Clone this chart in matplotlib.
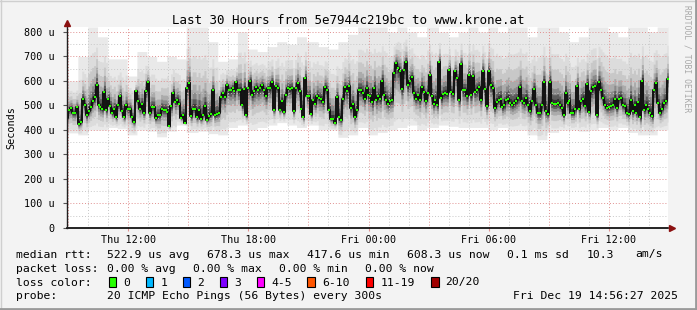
import numpy as np
import pandas as pd
import matplotlib
matplotlib.use("Agg")
import matplotlib.pyplot as plt
from matplotlib.patches import Rectangle
from matplotlib.lines import Line2D

W, H = 697, 310
MONO = "DejaVu Sans Mono"

# ---------- data ----------
# median rtt (microseconds), ~6 min steps over the 30 hours
median_us = [
    449, 483, 490, 470, 470, 493, 424, 433, 528, 500, 460, 476, 494, 520, 533, 585, 503, 493, 487, 555,
    483, 528, 497, 470, 487, 452, 503, 537, 479, 452, 500, 487, 487, 452, 433, 558, 520, 487, 506, 470,
    558, 594, 470, 494, 493, 447, 460, 460, 487, 483,
    483, 473, 418, 497, 551, 514, 524, 506, 449, 460, 429, 571, 592, 456, 487, 487, 452, 483, 446, 463,
    497, 442, 456, 465, 561, 460, 465, 470, 533, 551, 533, 582, 564, 561, 571, 558, 594, 561, 564, 500,
    568, 460, 571, 601, 544, 558, 574, 561, 571,
    582, 564, 537, 571, 571, 596, 483, 578, 571, 483, 520, 473, 544, 571, 568, 571, 476, 571, 592, 558,
    487, 452, 610, 537, 537, 465, 524, 506, 537, 530, 528, 514, 574, 561, 483, 446, 446, 429, 533, 452,
    442, 528, 574, 558, 578, 490, 506, 452, 483, 561,
    561, 551, 528, 571, 541, 537, 514, 571, 524, 537, 528, 601, 544, 524, 506, 520, 524, 633, 673, 653,
    639, 568, 646, 678, 582, 601, 615, 551, 528, 544, 524, 574, 555, 520, 551, 626, 537, 506, 524, 503,
    676, 530, 547, 551, 547, 646, 555, 547, 639, 610, 524, 669, 561,
    561, 537, 626, 541, 619, 555, 561, 574, 524, 642, 568, 497, 639, 585, 571, 490, 514, 524, 528, 493,
    500, 524, 528, 510, 503, 510, 517, 530, 574, 517, 510, 530, 503, 479, 520, 568, 500, 470, 470, 500,
    596, 479, 465, 596, 510, 506, 506, 510, 503, 490, 460, 551, 510,
    520, 470, 470, 487, 578, 487, 520, 528, 497, 588, 473, 558, 574, 578, 460, 596, 564, 530, 503, 490,
    493, 497, 500, 528, 490, 528, 530, 500, 497, 470, 465, 524, 476, 500, 470, 514, 452, 601, 483, 500,
    487, 470, 456, 561, 592, 510, 470, 487, 510, 520, 608,
]

# smoke extent (fastest / slowest ping) per 30 min block
smoke_lo_us = [
    388, 380, 400, 400, 410, 405, 380, 400, 395, 372,
    395, 420, 390, 395, 385, 380, 410, 420, 400, 410,
    420, 430, 420, 410, 420, 400, 400, 370, 380, 410,
    380, 390, 400, 410, 420, 400, 410, 420, 415, 410,
    410, 410, 400, 410, 400, 400, 380, 360, 390, 400,
    400, 395, 400, 410, 400, 410, 390, 380, 380, 400,
]
smoke_hi_us = [
    600, 700, 820, 780, 690, 690, 620, 720, 700, 680,
    700, 690, 820, 820, 760, 680, 690, 800, 730, 720,
    740, 760, 750, 780, 760, 740, 730, 760, 790, 820,
    820, 820, 800, 820, 800, 780, 820, 800, 780, 800,
    820, 800, 820, 800, 820, 820, 780, 820, 820, 800,
    760, 780, 820, 820, 800, 780, 820, 820, 800, 820,
]

y_ticks = [0, 100, 200, 300, 400, 500, 600, 700, 800]
y_labels = ["0", "100 u", "200 u", "300 u", "400 u", "500 u", "600 u", "700 u", "800 u"]
x_tick_times = ["2025-12-18 12:00", "2025-12-18 18:00", "2025-12-19 00:00",
                "2025-12-19 06:00", "2025-12-19 12:00"]
x_labels = ["Thu 12:00", "Thu 18:00", "Fri 00:00", "Fri 06:00", "Fri 12:00"]

loss_labels = ["0", "1", "2", "3", "4-5", "6-10", "11-19", "20/20"]
loss_colors = ["#26ff00", "#00b8ff", "#0059ff", "#7e00ff",
               "#ff00ff", "#ff5500", "#ff0000", "#a10000"]

t_start = pd.Timestamp("2025-12-18 08:57")
t_end = pd.Timestamp("2025-12-19 14:57")


def fx(x):
    return x / W


def fy(y):
    return 1 - y / H


def main():
    plt.rcParams["font.family"] = [MONO, "DejaVu Sans"]
    fig = plt.figure(figsize=(W / 100, H / 100), dpi=100, facecolor="#f3f3f3")

    # 3d-ish frame
    fig.add_artist(Line2D([0, 1], [fy(0.5), fy(0.5)], color="#cfcfcf", lw=1))
    fig.add_artist(Line2D([fx(0.5), fx(0.5)], [0, 1], color="#cfcfcf", lw=1))
    fig.add_artist(Line2D([0, 1], [fy(309), fy(309)], color="#9a9a9a", lw=2))
    fig.add_artist(Line2D([fx(696), fx(696)], [0, 1], color="#9a9a9a", lw=2))

    ax = fig.add_axes([fx(67), fy(228), (668 - 67) / W, (228 - 27) / H])
    ax.set_facecolor("white")

    med = np.array(median_us, dtype=float)
    t = pd.date_range(t_start, t_end, periods=len(med))
    lo = np.array(smoke_lo_us, dtype=float)
    hi = np.array(smoke_hi_us, dtype=float)
    blk = np.minimum(((t - t_start) / pd.Timedelta("30min")).astype(int), len(hi) - 1)
    hi_s, lo_s = hi[blk], lo[blk]

    # smoke: outer pings light, inner pings dark
    layers = [(1.0, "#e9e9e9"), (0.65, "#dcdcdc"), (0.45, "#c8c8c8"), (0.3, "#ababab"),
              (0.2, "#8a8a8a"), (0.12, "#5c5c5c"), (0.06, "#343434")]
    for f, c in layers:
        up = med + f * (hi_s - med)
        dn = med - min(1.0, f * 1.3) * (med - lo_s)
        ax.fill_between(t, dn, up, step="mid", color=c, lw=0, zorder=1)

    # grid
    for v in range(50, 820, 50):
        major = v % 100 == 0
        ax.axhline(v, color="#e09090" if major else "#c8c8c8", lw=0.7,
                   ls=(0, (1, 2)), zorder=3)
    for tt in pd.date_range("2025-12-18 09:00", "2025-12-19 14:00", freq="1h"):
        major = tt.hour % 3 == 0
        ax.axvline(tt, color="#e09090" if major else "#c8c8c8", lw=0.7,
                   ls=(0, (1, 2)), zorder=3)

    # median
    ax.step(t, med, where="mid", color="#111111", lw=1.4, zorder=4)
    ax.plot(t, med, ls="none", marker="s", ms=2.0, mew=0, color=loss_colors[0], zorder=5)

    ax.set_xlim(t_start, t_end)
    ax.set_ylim(0, 820)
    for s in ax.spines.values():
        s.set_visible(False)
    ax.axhline(0, color="black", lw=1.2, zorder=6, clip_on=False)
    ax.axvline(t_start, color="#202020", lw=1, zorder=6, clip_on=False)
    ax.plot([1.006], [0], marker=">", ms=4, color="#8b1010", transform=ax.transAxes,
            clip_on=False, zorder=7)
    ax.plot([0], [1.02], marker="^", ms=4, color="#8b1010", transform=ax.transAxes,
            clip_on=False, zorder=7)

    ax.set_yticks(y_ticks)
    ax.set_yticklabels(y_labels)
    ax.set_xticks(pd.to_datetime(x_tick_times))
    ax.set_xticklabels(x_labels)
    ax.tick_params(axis="y", length=3, width=0.8, color="#555555", pad=6, labelsize=7.3)
    ax.tick_params(axis="x", length=2, width=0.8, color="#e09090", pad=3, labelsize=7.3)

    fig.text(fx(11), fy(128), "Seconds", rotation=90, ha="center", va="center", fontsize=7.3)
    fig.text(fx(348), fy(23.5), "Last 30 Hours from 5e7944c219bc to www.krone.at",
             ha="center", va="baseline", fontsize=9)
    fig.text(fx(687), fy(5), "RRDTOOL / TOBI OETIKER", rotation=270, ha="center", va="top",
             fontsize=5.8, color="#a8a8a8")

    fs = 8.2
    row1 = [(16, "median rtt:"), (107, "522.9 us avg"), (207, "678.3 us max"),
            (307, "417.6 us min"), (407, "608.3 us now"), (507, "0.1 ms sd"),
            (587, "10.3"), (635, "am/s")]
    row2 = [(16, "packet loss:"), (107, "0.00 % avg"), (193, "0.00 % max"),
            (279, "0.00 % min"), (365, "0.00 % now")]
    row4 = [(16, "probe:"), (107, "20 ICMP Echo Pings (56 Bytes) every 300s"),
            (513, "Fri Dec 19 14:56:27 2025")]
    for y, row in [(257.5, row1), (271.5, row2), (299.3, row4)]:
        for x, s in row:
            fig.text(fx(x), fy(y), s, ha="left", va="baseline", fontsize=fs)

    fig.text(fx(16), fy(285.5), "loss color:", ha="left", va="baseline", fontsize=fs)
    box_x = [108.7, 145.7, 182.7, 219.7, 256.7, 307.3, 365.7, 431]
    for bx, lab, col in zip(box_x, loss_labels, loss_colors):
        fig.add_artist(Rectangle((fx(bx), fy(286.5)), 7.5 / W, 10 / H, facecolor=col,
                                 edgecolor="black", lw=0.8))
        fig.text(fx(bx + 14.5), fy(285.5), lab, ha="left", va="baseline", fontsize=fs)

    fig.savefig("out.png", dpi=100, facecolor=fig.get_facecolor())


if __name__ == "__main__":
    main()
